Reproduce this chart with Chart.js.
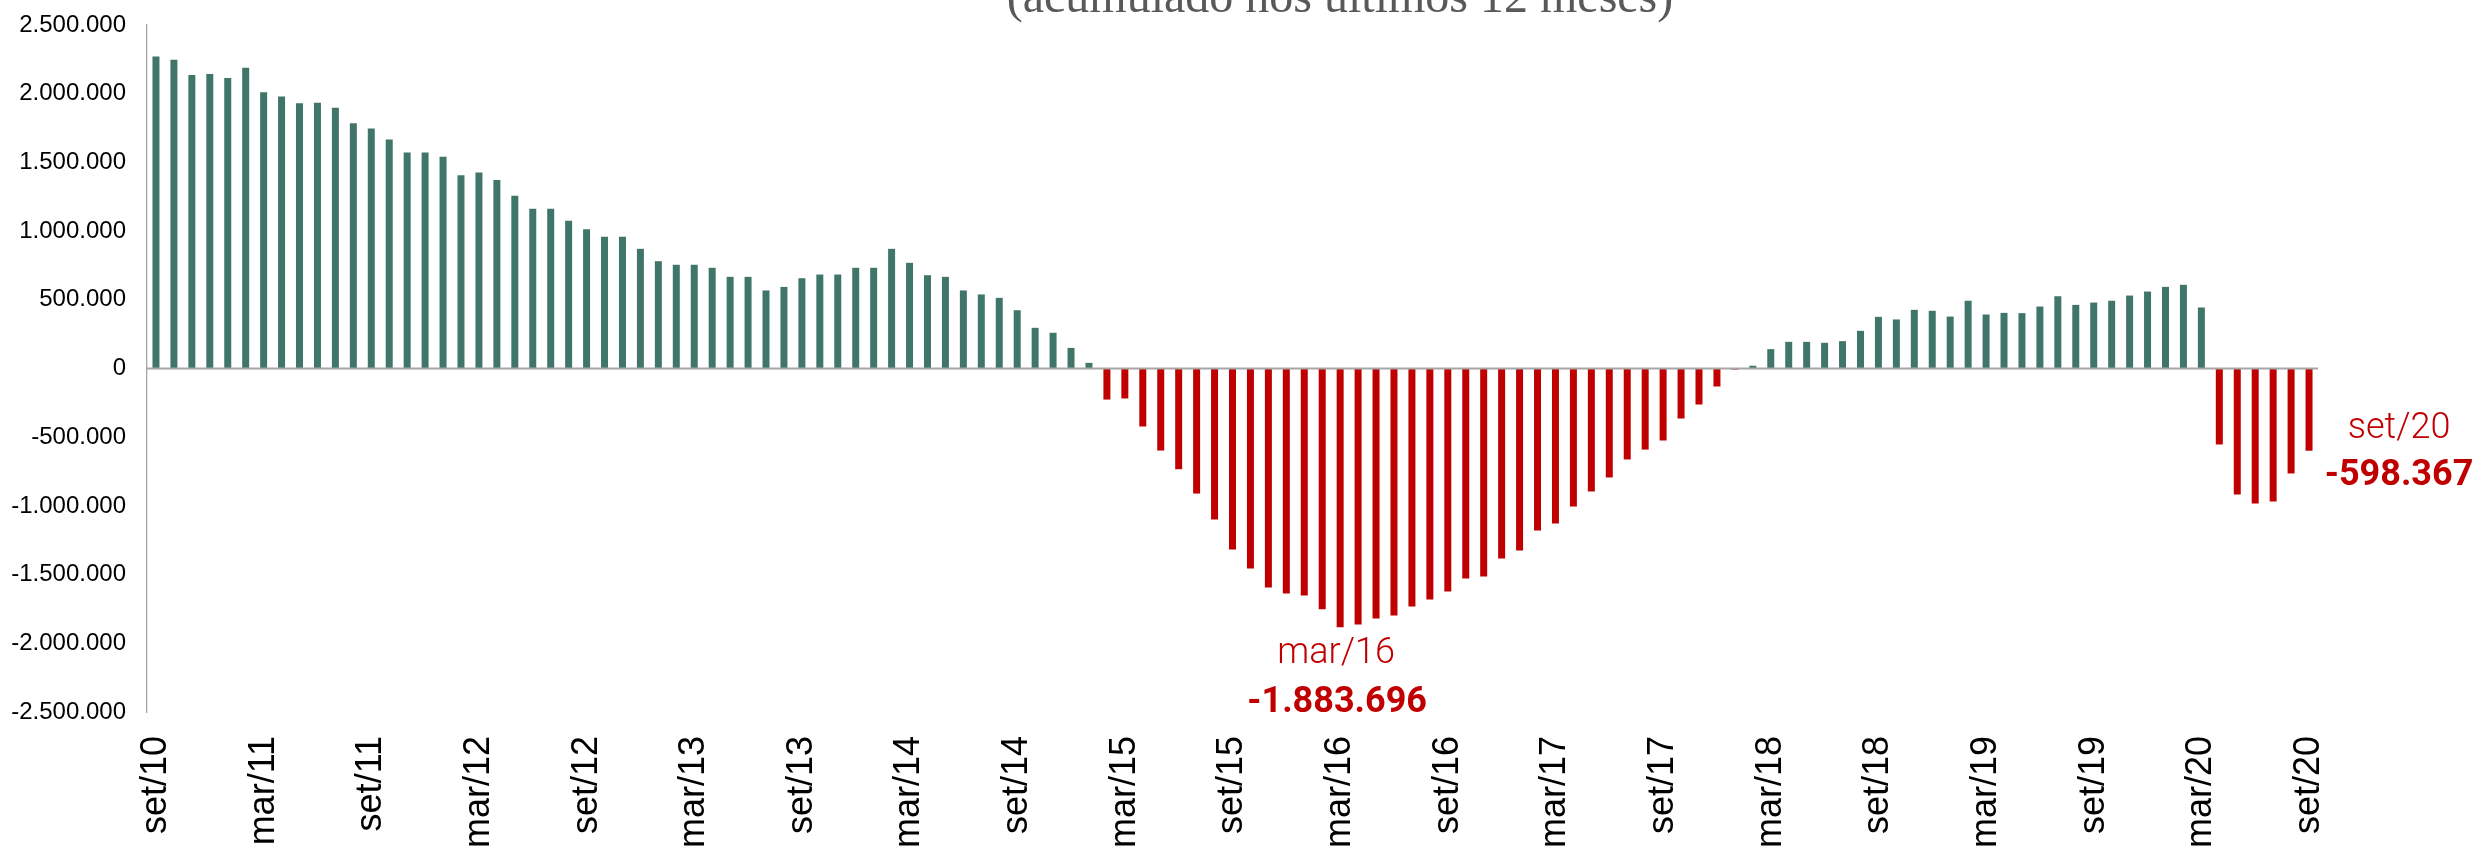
<!DOCTYPE html>
<html>
<head>
<meta charset="utf-8">
<script src="https://cdn.jsdelivr.net/npm/chart.js@4/dist/chart.umd.min.js"></script>
<style>
  html, body { margin: 0; padding: 0; background: #fff; overflow: hidden; }
  #wrap { width: 2476px; height: 852px; position: relative; }
</style>
</head>
<body>
<div id="wrap"><canvas id="saldo" width="2476" height="852"></canvas></div>
<script>
// meses (set/10 a set/20)
const meses = [
  'set/10', 'out/10', 'nov/10', 'dez/10',
  'jan/11', 'fev/11', 'mar/11', 'abr/11', 'mai/11', 'jun/11', 'jul/11', 'ago/11', 'set/11', 'out/11', 'nov/11', 'dez/11',
  'jan/12', 'fev/12', 'mar/12', 'abr/12', 'mai/12', 'jun/12', 'jul/12', 'ago/12', 'set/12', 'out/12', 'nov/12', 'dez/12',
  'jan/13', 'fev/13', 'mar/13', 'abr/13', 'mai/13', 'jun/13', 'jul/13', 'ago/13', 'set/13', 'out/13', 'nov/13', 'dez/13',
  'jan/14', 'fev/14', 'mar/14', 'abr/14', 'mai/14', 'jun/14', 'jul/14', 'ago/14', 'set/14', 'out/14', 'nov/14', 'dez/14',
  'jan/15', 'fev/15', 'mar/15', 'abr/15', 'mai/15', 'jun/15', 'jul/15', 'ago/15', 'set/15', 'out/15', 'nov/15', 'dez/15',
  'jan/16', 'fev/16', 'mar/16', 'abr/16', 'mai/16', 'jun/16', 'jul/16', 'ago/16', 'set/16', 'out/16', 'nov/16', 'dez/16',
  'jan/17', 'fev/17', 'mar/17', 'abr/17', 'mai/17', 'jun/17', 'jul/17', 'ago/17', 'set/17', 'out/17', 'nov/17', 'dez/17',
  'jan/18', 'fev/18', 'mar/18', 'abr/18', 'mai/18', 'jun/18', 'jul/18', 'ago/18', 'set/18', 'out/18', 'nov/18', 'dez/18',
  'jan/19', 'fev/19', 'mar/19', 'abr/19', 'mai/19', 'jun/19', 'jul/19', 'ago/19', 'set/19', 'out/19', 'nov/19', 'dez/19',
  'jan/20', 'fev/20', 'mar/20', 'abr/20', 'mai/20', 'jun/20', 'jul/20', 'ago/20', 'set/20'
];

// saldo acumulado em 12 meses
const saldo = [
  2270000, 2247000, 2137000, 2144000,
  2115000, 2188000, 2011000, 1980000, 1931000, 1934000, 1897000, 1785000, 1747000, 1667000, 1572000, 1572000,
  1541000, 1407000, 1426000, 1371000, 1257000, 1162000, 1162000, 1075000, 1014000, 958000, 958000, 871000,
  781000, 755000, 755000, 733000, 667000, 667000, 568000, 594000, 657000, 684000, 684000, 733000,
  733000, 871000, 769000, 679000, 667000, 568000, 539000, 514000, 424000, 296000, 260000, 150000,
  41000, -226000, -218000, -422000, -597000, -733000, -910000, -1099000, -1317000, -1456000, -1594000, -1638000,
  -1652000, -1752000, -1883696, -1863000, -1820000, -1798000, -1732000, -1681000, -1623000, -1528000, -1514000, -1383000,
  -1325000, -1179000, -1128000, -1004000, -895000, -793000, -662000, -590000, -524000, -364000, -262000, -131000,
  -8000, 20000, 141000, 194000, 194000, 187000, 199000, 274000, 376000, 357000, 427000, 420000,
  378000, 493000, 393000, 405000, 403000, 451000, 526000, 463000, 480000, 493000, 531000, 560000,
  594000, 609000, 444000, -553000, -917000, -983000, -968000, -764000, -598367
];

const titulo = '(acumulado nos últimos 12 meses)';
const destaques = ['mar/16', 'set/20'];

const VERDE = '#40766a';
const VERMELHO = '#c00000';

function fmt(v) {
  const s = Math.abs(Math.round(v)).toString().replace(/\B(?=(\d{3})+(?!\d))/g, '.');
  return (v < 0 ? '-' : '') + s;
}

const rotulos = {
  id: 'rotulos',
  afterDatasetsDraw(chart) {
    // linha do zero
    const ctx = chart.ctx, a = chart.chartArea;
    const y0 = chart.scales.y.getPixelForValue(0);
    ctx.save();
    ctx.strokeStyle = '#a6a6a6';
    ctx.lineWidth = 2;
    ctx.beginPath();
    ctx.moveTo(a.left, y0);
    ctx.lineTo(a.right, y0);
    ctx.stroke();
    ctx.restore();
  },
  afterDraw(chart) {
    const ctx = chart.ctx;
    const x = chart.scales.x, y = chart.scales.y;
    ctx.save();

    // titulo (cortado no topo, como no original)
    ctx.fillStyle = '#595959';
    ctx.font = '48px "Liberation Serif"';
    ctx.textAlign = 'center';
    ctx.textBaseline = 'alphabetic';
    ctx.fillText(titulo, 1340, 12);

    ctx.fillStyle = VERMELHO;

    // minimo: mar/16
    let i = meses.indexOf(destaques[0]);
    let px = x.getPixelForValue(i);
    let py = y.getPixelForValue(saldo[i]);
    ctx.font = '300 36px Roboto';
    ctx.fillText(meses[i], px - 4, py + 36);
    ctx.font = 'bold 36px Roboto';
    ctx.fillText(fmt(saldo[i]), px - 3, py + 85);

    // ultimo: set/20
    i = meses.indexOf(destaques[1]);
    px = x.getPixelForValue(i);
    py = y.getPixelForValue(saldo[i]);
    ctx.font = '300 36px Roboto';
    ctx.fillText(meses[i], px + 90, py - 13);
    ctx.font = 'bold 36px Roboto';
    ctx.fillText(fmt(saldo[i]), px + 90, py + 34);

    ctx.restore();
  }
};

new Chart(document.getElementById('saldo'), {
  type: 'bar',
  data: {
    labels: meses,
    datasets: [{
      data: saldo,
      backgroundColor: saldo.map(v => v < 0 ? VERMELHO : VERDE),
      barPercentage: 0.39,
      categoryPercentage: 1.0
    }]
  },
  options: {
    responsive: false,
    devicePixelRatio: 1,
    animation: false,
    layout: { padding: { top: 25, right: 158, left: 0, bottom: 0 } },
    plugins: {
      legend: { display: false },
      tooltip: { enabled: false }
    },
    scales: {
      x: {
        grid: { display: false, drawTicks: false },
        border: { display: false },
        ticks: {
          autoSkip: false,
          minRotation: 90,
          maxRotation: 90,
          padding: 24,
          color: '#000',
          font: { family: '"Liberation Sans", Arial, sans-serif', size: 36 },
          callback: (v, i) => i % 6 === 0 ? meses[i] : ''
        },
        afterFit: s => { s.height = 140; }
      },
      y: {
        min: -2500000,
        max: 2500000,
        // tickLength faz o afastamento dos rotulos (padding somaria no topo)
        grid: { display: false, drawTicks: true, tickLength: 21 },
        border: { display: true, dash: [3.3, 2.7], color: '#a6a6a6', width: 1.3 },
        ticks: {
          stepSize: 500000,
          padding: 0,
          color: '#000',
          font: { family: '"Liberation Sans", Arial, sans-serif', size: 24 },
          callback: v => fmt(v)
        },
        afterFit: s => { s.width = 147; }
      }
    }
  },
  plugins: [rotulos]
});
</script>
</body>
</html>
